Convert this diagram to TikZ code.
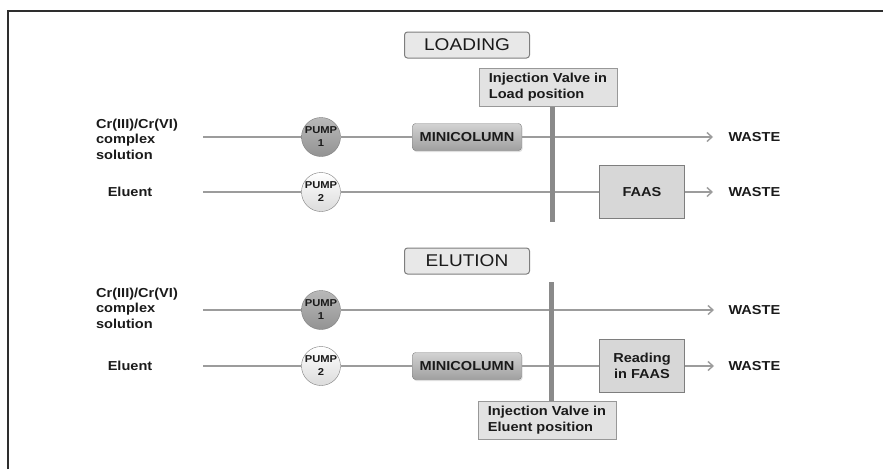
\documentclass[tikz,border=0pt]{standalone}
\usepackage{fontspec}
\setmainfont{Liberation Sans}[FakeStretch=1.12]
\usetikzlibrary{arrows.meta,positioning,shadows}
\definecolor{ink}{HTML}{1A1A1A}
\definecolor{tube}{HTML}{9C9C9C}
\definecolor{valve}{HTML}{8A8A8A}
\definecolor{edge}{HTML}{7E7E7E}
\definecolor{panel}{HTML}{E2E2E2}
\definecolor{frame}{HTML}{2E2E2E}

\begin{document}
\begin{tikzpicture}[x=1pt, y=-1pt, text=ink, font=\bfseries\fontsize{13}{15.5}\selectfont,
  title/.style={draw=edge, line width=1pt, rounded corners=3pt, fill=panel!80, minimum width=125pt, minimum height=26pt, font=\fontsize{17}{20}\selectfont},
  valvebox/.style={draw=edge!80, line width=1pt, fill=panel, minimum width=138pt, minimum height=38pt, align=left, inner sep=2pt},
  det/.style={draw=edge, line width=1pt, fill=panel!95!black, minimum width=85pt, minimum height=53pt, align=center},
  column/.style={draw=edge, rounded corners=3pt, top color=gray!35, bottom color=gray!75, minimum width=109pt, minimum height=27pt, drop shadow={opacity=0.25, shadow xshift=1pt, shadow yshift=-1.5pt}},
  pump/.style={circle, draw=edge, minimum size=39pt, inner sep=0pt, align=center, font=\bfseries\fontsize{10}{13}\selectfont},
  pumpdark/.style={pump, top color=gray!55, bottom color=gray!85},
  pumplight/.style={pump, top color=white, bottom color=gray!28},
  lbl/.style={align=left},
  flow/.style={draw=tube, line width=1.4pt},
  arr/.style={flow, -{Straight Barb[length=5pt, width=9pt]}},
  bar/.style={draw=valve, line width=5pt}]
  \useasboundingbox (0,0) rectangle (883,469);
  \draw[frame, line width=1.5pt] (8,469) -- (8,11) -- (883,11);
  % loading
  \node[title] (load) at (467,45) {LOADING};
  \node[valvebox] (injL) at (548,87) {Injection Valve in\\Load position};
  \node[lbl] (srcL) at (137,139) {Cr(III)/Cr(VI)\\complex\\solution};
  \node (eluL) at (130,192) {Eluent};
  \coordinate (inL1) at (203,137); \coordinate (inL2) at (203,192);
  \node[pumpdark] (p1L) at (321,137) {PUMP\\1};
  \node[pumplight] (p2L) at (321,192) {PUMP\\2};
  \node[column] (colL) at (467,137) {MINICOLUMN};
  \node[det] (faasL) at (642,192) {FAAS};
  \coordinate (endL1) at (713,137); \coordinate (endL2) at (713,192);
  \node[anchor=west] (wL1) at (725,137) {WASTE};
  \node[anchor=west] (wL2) at (725,192) {WASTE};
  \draw[flow] (inL1) -- (p1L) -- (colL); \draw[arr] (colL) -- (endL1);
  \draw[flow] (inL2) -- (p2L) -- (faasL); \draw[arr] (faasL) -- (endL2);
  \coordinate (barL) at (552,222);
  \draw[bar] (injL.south -| barL) -- (barL);
  % elution
  \node[title] (elu) at (467,261) {ELUTION};
  \node[valvebox] (injE) at (547,420) {Injection Valve in\\Eluent position};
  \node[lbl] (srcE) at (137,308) {Cr(III)/Cr(VI)\\complex\\solution};
  \node (eluE) at (130,366) {Eluent};
  \coordinate (inE1) at (203,310); \coordinate (inE2) at (203,366);
  \node[pumpdark] (p1E) at (321,310) {PUMP\\1};
  \node[pumplight] (p2E) at (321,366) {PUMP\\2};
  \node[column] (colE) at (467,366) {MINICOLUMN};
  \node[det] (faasE) at (642,366) {Reading\\in FAAS};
  \coordinate (endE1) at (714,310); \coordinate (endE2) at (714,366);
  \node[anchor=west] (wE1) at (725,310) {WASTE};
  \node[anchor=west] (wE2) at (725,366) {WASTE};
  \draw[flow] (inE1) -- (p1E); \draw[arr] (p1E) -- (endE1);
  \draw[flow] (inE2) -- (p2E) -- (colE) -- (faasE); \draw[arr] (faasE) -- (endE2);
  \coordinate (barE) at (551,282);
  \draw[bar] (barE) -- (injE.north -| barE);
\end{tikzpicture}
\end{document}
